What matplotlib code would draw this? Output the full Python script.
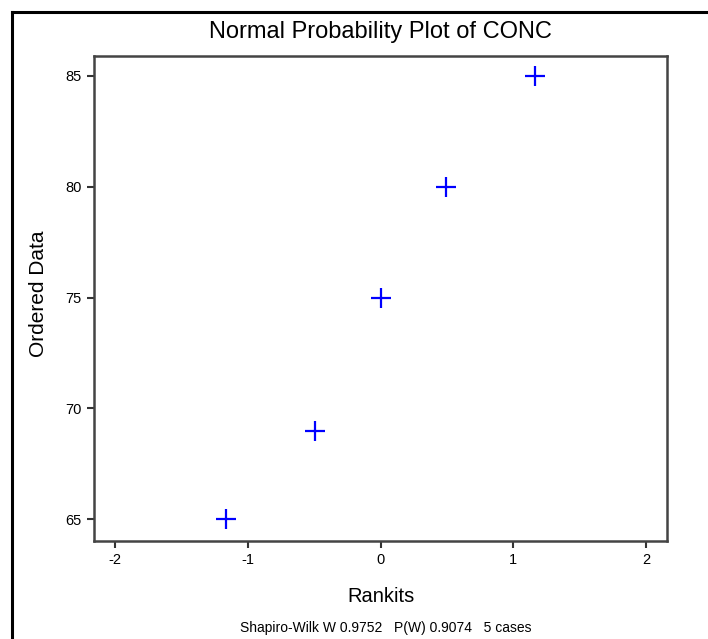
import numpy as np
import matplotlib.pyplot as plt
from matplotlib.lines import Line2D

plt.rcParams['font.family'] = ['Liberation Sans', 'DejaVu Sans']

# normal scores (rankits) for n=5 and the sorted CONC values
rankits = [-1.163, -0.495, 0.0, 0.495, 1.163]
conc = [65, 69, 75, 80, 85]
xticks = [-2, -1, 0, 1, 2]
yticks = [65, 70, 75, 80, 85]
footer = "Shapiro-Wilk W 0.9752   P(W) 0.9074   5 cases"

W, H = 708, 639
fig = plt.figure(figsize=(W / 100, H / 100), dpi=100)
ax = fig.add_axes([94 / W, 1 - 541 / H, (667 - 94) / W, (541 - 56) / H])

ax.plot(rankits, conc, linestyle='none', marker='+', color='#0000ff',
        markersize=15, markeredgewidth=1.6)

ax.set_xlim(-2.156, 2.156)
ax.set_ylim(64.02, 85.9)
ax.set_xticks(xticks)
ax.set_yticks(yticks)
ax.set_xticklabels([str(v) for v in xticks])
ax.set_yticklabels([str(v) for v in yticks])
ax.tick_params(direction='out', length=5, width=1.5, color='#333333',
               labelsize=10.5, pad=4)
for s in ax.spines.values():
    s.set_linewidth(1.8)
    s.set_color('#444444')

fig.text(380 / W, 1 - 32 / H, "Normal Probability Plot of CONC", ha='center',
         va='center', fontsize=17)
fig.text(381 / W, 1 - 597 / H, "Rankits", ha='center', va='center', fontsize=14.5)
fig.text(39 / W, 1 - 294 / H, "Ordered Data", ha='center', va='center',
         rotation=90, fontsize=15)
fig.text(386 / W, 1 - 628 / H, footer, ha='center', va='center', fontsize=10)

# outer frame, open on the right and bottom
fig.add_artist(Line2D([12 / W, 12 / W], [0, 1 - 12 / H], color='black',
                      linewidth=2.2, transform=fig.transFigure))
fig.add_artist(Line2D([12 / W, 1], [1 - 12 / H, 1 - 12 / H], color='black',
                      linewidth=2.2, transform=fig.transFigure))

fig.savefig('out.png', dpi=100)
